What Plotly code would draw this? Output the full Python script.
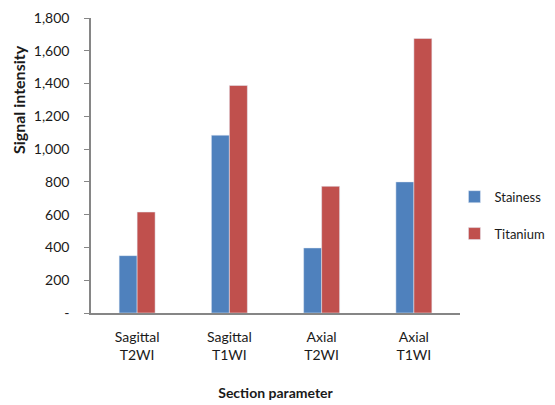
import plotly.graph_objects as go

categories = ["Sagittal<br>T2WI", "Sagittal<br>T1WI", "Axial<br>T2WI", "Axial<br>T1WI"]
stainess = [350, 1085, 397, 800]
titanium = [616, 1388, 773, 1675]
ytick_vals = [0, 200, 400, 600, 800, 1000, 1200, 1400, 1600, 1800]
ytick_text = ["-", "200", "400", "600", "800", "1,000", "1,200", "1,400", "1,600", "1,800"]

FONT = "Lato, Open Sans, sans-serif"
TXT = "#1a1a1a"

fig = go.Figure()
fig.add_trace(go.Bar(x=categories, y=stainess, name="Stainess", marker_color="#4F81BD",
                     legendgroup="a"))
fig.add_trace(go.Bar(x=categories, y=titanium, name="Titanium", marker_color="#C0504D",
                     legendgroup="b"))

fig.update_layout(
    width=547, height=397,
    margin=dict(l=83, r=95, t=10, b=92, autoexpand=False),
    paper_bgcolor="white", plot_bgcolor="white",
    barmode="group", bargap=0.61, bargroupgap=0,
    font=dict(family=FONT, size=14, color=TXT),
    showlegend=True,
    legend=dict(x=0.985, y=0.445, xanchor="left", yanchor="top",
                traceorder="grouped", tracegroupgap=17,
                font=dict(size=13, color=TXT), itemwidth=30),
    xaxis=dict(showline=True, linecolor="#868686", linewidth=1.5, ticks="",
               automargin=False,
               tickfont=dict(size=14, color=TXT), ticklabelstandoff=10,
               title=dict(text="<b>Section parameter</b>", font=dict(size=14, color=TXT), standoff=26)),
    yaxis=dict(range=[0, 1800], tickvals=ytick_vals, ticktext=ytick_text,
               showline=True, linecolor="#868686", linewidth=1.5, showgrid=False,
               automargin=False, ticklabeloverflow="allow",
               ticks="outside", ticklen=5, tickcolor="#868686", zeroline=False,
               tickfont=dict(size=14, color=TXT), ticklabelstandoff=12),
    annotations=[dict(text="<b>Signal intensity</b>", textangle=-90, xref="paper", yref="paper",
                      x=-0.198, y=0.725, xanchor="center", yanchor="middle", showarrow=False,
                      font=dict(size=16, color=TXT))],
)

fig.write_html("out.html")
